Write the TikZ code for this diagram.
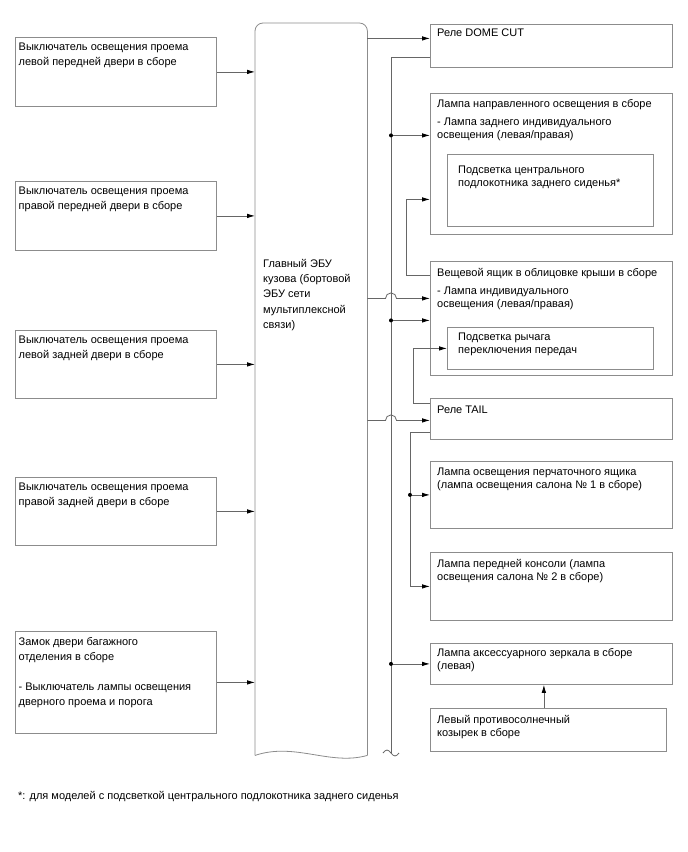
\documentclass[tikz,border=0pt]{standalone}
\usepackage{fontspec}
\setmainfont{Liberation Sans}
\usetikzlibrary{positioning,arrows.meta,calc}

\begin{document}
\begin{tikzpicture}[
  x=1pt, y=-1pt,
  font=\fontsize{11pt}{13pt}\selectfont,
  box/.style={
    rectangle,
    draw=black!45,
    line width=0.8pt,
    anchor=north west,
    inner sep=0pt,
  },
  txt/.style={anchor=north west, align=left, inner sep=0pt},
  ltxt/.style={txt, font=\fontsize{11pt}{15pt}\selectfont},
  wire/.style={draw=black!60, line width=0.8pt},
  sig/.style={wire, -{Latex[length=8pt,width=4.5pt,color=black]}},
  jdot/.style={circle, fill=black, inner sep=0pt, minimum size=4pt},
]
  \useasboundingbox (0,0) rectangle (688,852);

  % --- Left: door switches ---
  \node[box, minimum width=201pt, minimum height=69pt] (sw1) at (15,37) {};
  \node[box, minimum width=201pt, minimum height=69pt] (sw2) at (15,181) {};
  \node[box, minimum width=201pt, minimum height=68pt] (sw3) at (15,330) {};
  \node[box, minimum width=201pt, minimum height=68pt] (sw4) at (15,477) {};
  \node[box, minimum width=201pt, minimum height=102pt] (sw5) at (15,631) {};

  \node[ltxt] (sw1t) at ([shift={(3.5pt,-6pt)}]sw1.north west) {Выключатель освещения проема\\левой передней двери в сборе};
  \node[ltxt] (sw2t) at ([shift={(3.5pt,-6pt)}]sw2.north west) {Выключатель освещения проема\\правой передней двери в сборе};
  \node[ltxt] (sw3t) at ([shift={(3.5pt,-6pt)}]sw3.north west) {Выключатель освещения проема\\левой задней двери в сборе};
  \node[ltxt] (sw4t) at ([shift={(3.5pt,-6pt)}]sw4.north west) {Выключатель освещения проема\\правой задней двери в сборе};
  \node[ltxt] (sw5t) at ([shift={(3.5pt,-6pt)}]sw5.north west) {Замок двери багажного\\отделения в сборе\\[15pt]- Выключатель лампы освещения\\дверного проема и порога};

  % --- Body ECU ---
  \node[anchor=north west, minimum width=112pt, minimum height=732pt, inner sep=0pt] (ecu) at (255,23) {};
  \draw[wire, draw=black!45, rounded corners=8pt] (ecu.south west) -- (ecu.north west) -- (ecu.north east) -- (ecu.south east);
  \draw[wire, draw=black!45] (ecu.south east) .. controls (330,766) and (295,742) .. (ecu.south west);
  \node[txt, font=\fontsize{11pt}{15.3pt}\selectfont] (ecut) at (263,259) {Главный ЭБУ\\кузова (бортовой\\ЭБУ сети\\мультиплексной\\связи)};

  \foreach \s in {sw1, sw2, sw3, sw4, sw5} {
    \draw[sig] (\s.east) -- (\s.east -| ecu.west);
  }

  % --- Right: relays and lamps ---
  \node[box, minimum width=242pt, minimum height=43pt] (dome) at (430,24) {};
  \node[box, minimum width=242pt, minimum height=141pt] (spot) at (430,93) {};
  \node[box, minimum width=206pt, minimum height=72pt] (armr) at (447,154) {};
  \node[box, minimum width=242pt, minimum height=114pt] (roof) at (430,261) {};
  \node[box, minimum width=206pt, minimum height=42pt] (gear) at (447,327) {};
  \node[box, minimum width=242pt, minimum height=41pt] (tail) at (430,398) {};
  \node[box, minimum width=242pt, minimum height=67pt] (glove) at (430,461) {};
  \node[box, minimum width=242pt, minimum height=68pt] (console) at (430,552) {};
  \node[box, minimum width=242pt, minimum height=41pt] (mirror) at (430,643) {};
  \node[box, minimum width=236pt, minimum height=43pt] (visor) at (430,708) {};

  \node[txt] (domet) at ([shift={(7pt,-5pt)}]dome.north west) {Реле DOME CUT};
  \node[txt] (spott) at ([shift={(7pt,-6pt)}]spot.north west) {Лампа направленного освещения в сборе\\[5pt]- Лампа заднего индивидуального\\освещения (левая/правая)};
  \node[txt] (armrt) at ([shift={(11pt,-12pt)}]armr.north west) {Подсветка центрального\\подлокотника заднего сиденья*};
  \node[txt] (rooft) at ([shift={(7pt,-7pt)}]roof.north west) {Вещевой ящик в облицовке крыши в сборе\\[5pt]- Лампа индивидуального\\освещения (левая/правая)};
  \node[txt] (geart) at ([shift={(11pt,-6pt)}]gear.north west) {Подсветка рычага\\переключения передач};
  \node[txt] (tailt) at ([shift={(7pt,-8pt)}]tail.north west) {Реле TAIL};
  \node[txt] (glovet) at ([shift={(7pt,-7pt)}]glove.north west) {Лампа освещения перчаточного ящика\\(лампа освещения салона № 1 в сборе)};
  \node[txt] (consolet) at ([shift={(7pt,-7pt)}]console.north west) {Лампа передней консоли (лампа\\освещения салона № 2 в сборе)};
  \node[txt] (mirrort) at ([shift={(7pt,-5pt)}]mirror.north west) {Лампа аксессуарного зеркала в сборе\\(левая)};
  \node[txt] (visort) at ([shift={(7pt,-7pt)}]visor.north west) {Левый противосолнечный\\козырек в сборе};

  % --- Connectors ---
  \coordinate (d1) at ([yshift=7.5pt]dome.west);
  \coordinate (d2) at ([yshift=-11.5pt]dome.west);
  \coordinate (busend) at (391,753);
  \coordinate (hop) at ([xshift=-5.5pt]busend);
  \coordinate (s1) at ([yshift=28.5pt]spot.west);
  \coordinate (s2) at ([yshift=-35.5pt]spot.west);
  \coordinate (r1) at ([yshift=43pt]roof.west);
  \coordinate (r2) at ([yshift=20pt]roof.west);
  \coordinate (r3) at ([yshift=-2pt]roof.west);
  \coordinate (t1) at ([yshift=15.5pt]tail.west);
  \coordinate (t2) at ([yshift=-1.5pt]tail.west);
  \coordinate (t3) at ([yshift=-13.5pt]tail.west);
  \coordinate (tk) at ([xshift=-20pt]t3);

  \draw[sig] (ecu.east |- d1) -- (d1);
  \draw[wire] (d2) -| (busend);
  \draw[wire] ([xshift=-8pt]busend) sin ++(4,-3) cos ++(4,3) sin ++(4,3) cos ++(4,-3);

  \node[jdot] (j1) at (busend |- s1) {};
  \node[jdot] (j2) at (busend |- r3) {};
  \node[jdot] (j3) at (busend |- mirror.west) {};
  \draw[sig] (j1) -- (s1);
  \draw[sig] (j2) -- (r3);
  \draw[sig] (j3) -- (mirror.west);

  \draw[sig] (ecu.east |- r2) -- (hop |- r2) arc[start angle=180, end angle=0, radius=5.5pt] -- (r2);
  \draw[sig] (ecu.east |- t2) -- (hop |- t2) arc[start angle=180, end angle=0, radius=5.5pt] -- (t2);

  \draw[sig] (r1) -- ++(-24,0) |- (s2);
  \draw[sig] (t1) -- ++(-17,0) |- (gear.west);
  \draw[sig] (t3) -- (tk) |- (console.west);
  \node[jdot] (j4) at (tk |- glove.west) {};
  \draw[sig] (j4) -- (glove.west);

  \draw[sig] ([xshift=-4.5pt]visor.north) -- ([xshift=-4.5pt]visor.north |- mirror.south);

  % --- Footnote ---
  \node[txt] (note) at (18,791) {*: для моделей с подсветкой центрального подлокотника заднего сиденья};

\end{tikzpicture}
\end{document}
